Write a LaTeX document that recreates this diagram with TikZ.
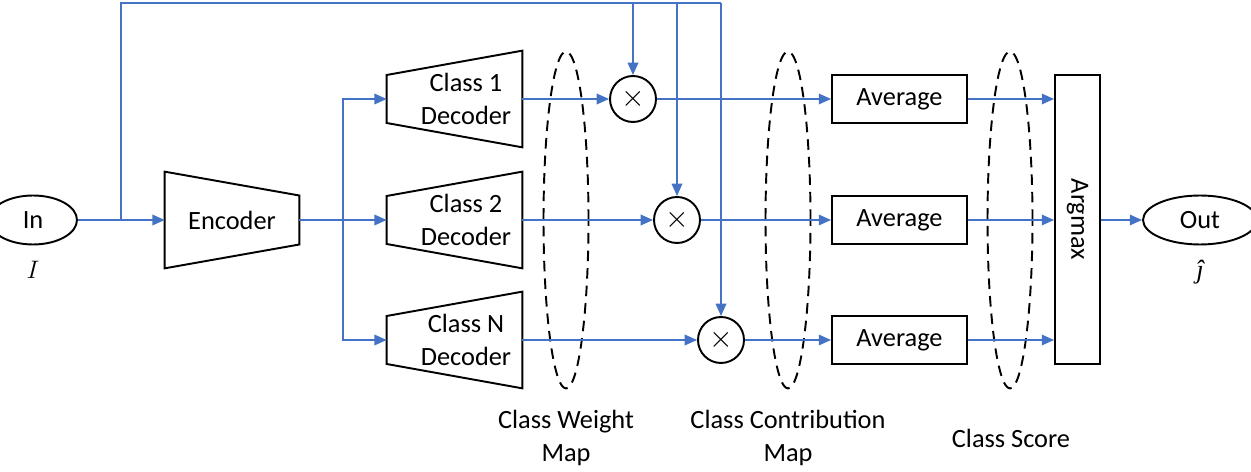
\documentclass[tikz,border=0pt]{standalone}
\usepackage{fontspec}
\setmainfont{Carlito}
\newfontfamily\hatfont{Liberation Serif}
\usetikzlibrary{arrows.meta,shapes.geometric,calc}
\definecolor{lblue}{RGB}{68,114,196}
\begin{document}
\begin{tikzpicture}[x=0.02cm,y=-0.02cm,
  font=\fontsize{15}{19}\selectfont,
  line/.style={draw=lblue, line width=0.95pt},
  conn/.style={line, -{Triangle[length=7pt,width=6pt]}},
  blk/.style={draw=black, line width=1.1pt},
  box/.style={blk, minimum width=2.7cm, minimum height=0.96cm, inner sep=0pt},
  mult/.style={blk, circle, minimum size=0.92cm, inner sep=0pt, font=\fontsize{19}{19}\selectfont},
  term/.style={blk, ellipse, minimum height=0.98cm, inner sep=0pt},
  trapbb/.style={minimum width=2.7cm, minimum height=1.92cm, inner sep=0pt},
  group/.style={draw=black, line width=1.1pt, dash pattern=on 6pt off 4pt, ellipse, minimum width=0.9cm, minimum height=6.74cm, inner sep=0pt},
  lbl/.style={align=center, inner sep=0pt}]
\useasboundingbox (0,0) rectangle (1251,472);

% terminals
\node[term, minimum width=1.76cm] (in) at (33,220) {In};
\node[lbl] (inlbl) at (33,270) {$I$};
\node[term, minimum width=2.28cm] (out) at (1200,220) {Out};
\node[lbl] (outlbl) at (1200,272) {\hatfont\itshape ĵ};

% encoder
\node[trapbb, minimum width=2.68cm] (enc) at (232,220) {};
\draw[blk] (enc.north west) -- ($(enc.east)+(0,-24.5)$) -- ($(enc.east)+(0,24.5)$) -- (enc.south west) -- cycle;
\node (enctxt) at (enc.center) {Encoder};

% decoders
\foreach \n/\y/\t in {dec1/99/Class 1, dec2/220/Class 2, decN/340/Class N}{
  \node[trapbb] (\n) at (454.5,\y) {};
  \draw[blk] ($(\n.west)+(0,-24)$) -- (\n.north east) -- (\n.south east) -- ($(\n.west)+(0,24)$) -- cycle;
  \node[lbl] (\n txt) at ($(\n.center)+(11.5,0)$) {\t\\Decoder};
}

% multipliers
\node[mult] (m1) at (633,99) {$\times$};
\node[mult] (m2) at (677,220) {$\times$};
\node[mult] (m3) at (721,340) {$\times$};

% averages
\node[box] (a1) at (899.5,99) {Average};
\node[box] (a2) at (899.5,220) {Average};
\node[box] (a3) at (899.5,340) {Average};

% argmax
\node[blk, minimum width=0.9cm, minimum height=5.78cm, inner sep=0pt] (arg) at (1077.5,219.5) {};
\node[rotate=-90] (argtxt) at (arg.center) {Argmax};

% dashed groups
\node[group] (g1) at (566,220) {};
\node[group] (g2) at (788,220) {};
\node[group] (g3) at (1010,220) {};

% group labels
\node[lbl] (l1) at (566,438) {Class Weight\\Map};
\node[lbl] (l2) at (788,438) {Class Contribution\\Map};
\node[lbl] (l3) at (1011,438) {Class Score};

% connectors
\coordinate (br) at (121,220);
\coordinate (tl) at (121,3);
\coordinate (tr) at (721,3);
\coordinate (eb) at (343,220);
\draw[conn] (in.east) -- (enc.west);
\draw[line] (br) -- (tl) -- (tr);
\draw[conn] (tr) -- (m3.north);
\draw[conn] (m1 |- tl) -- (m1.north);
\draw[conn] (m2 |- tl) -- (m2.north);
\draw[line] (enc.east) -- (eb);
\draw[conn] (eb) |- (dec1.west);
\draw[conn] (eb) -- (dec2.west);
\draw[conn] (eb) |- (decN.west);
\draw[conn] (dec1.east) -- (m1.west);
\draw[conn] (dec2.east) -- (m2.west);
\draw[conn] (decN.east) -- (m3.west);
\draw[conn] (m1.east) -- (a1.west);
\draw[conn] (m2.east) -- (a2.west);
\draw[conn] (m3.east) -- (a3.west);
\draw[conn] (a1.east) -- (arg.west |- a1.east);
\draw[conn] (a2.east) -- (arg.west |- a2.east);
\draw[conn] (a3.east) -- (arg.west |- a3.east);
\draw[conn] (arg.east |- out.west) -- (out.west);
\end{tikzpicture}
\end{document}
